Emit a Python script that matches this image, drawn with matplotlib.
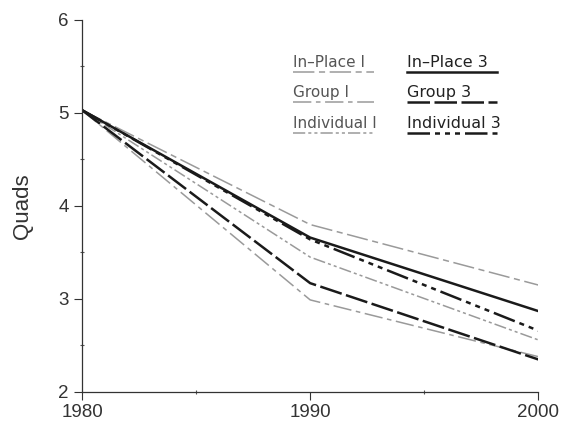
import matplotlib
matplotlib.use("Agg")
import matplotlib.pyplot as plt
from matplotlib.ticker import MultipleLocator

years = [1980, 1990, 2000]

# quads
inplace1 = [5.03, 3.80, 3.15]
group1 = [5.03, 2.99, 2.38]
indiv1 = [5.03, 3.45, 2.56]
inplace3 = [5.03, 3.66, 2.87]
group3 = [5.03, 3.17, 2.35]
indiv3 = [5.03, 3.64, 2.66]

labels1 = ["In\u2013Place I", "Group I", "Individual I"]
labels3 = ["In\u2013Place 3", "Group 3", "Individual 3"]

gray = "#9a9a9a"
black = "#1a1a1a"
styles1 = [(0, (14, 3, 4, 3)), (0, (12, 3, 3, 3)), (0, (8, 2, 2, 2, 2, 2))]
styles3 = ["-", (0, (9, 1.8)), (0, (9, 2, 2, 2, 2, 2, 2, 2))]

plt.rcParams["font.family"] = ["Liberation Sans", "DejaVu Sans"]

fig = plt.figure(figsize=(5.66, 4.24), dpi=100)
ax = fig.add_axes([0.145, 0.0755, 0.806, 0.8775])

series1 = [inplace1, group1, indiv1]
series3 = [inplace3, group3, indiv3]
for vals, ls in zip(series1, styles1):
    ax.plot(years, vals, color=gray, lw=1.1, ls=ls)
for vals, ls in zip(series3, styles3):
    ax.plot(years, vals, color=black, lw=1.8, ls=ls)

ax.set_xlim(1980, 2000)
ax.set_ylim(2, 6)
ax.set_xticks(years)
ax.xaxis.set_minor_locator(MultipleLocator(5))
ax.yaxis.set_major_locator(MultipleLocator(1))
ax.yaxis.set_minor_locator(MultipleLocator(0.5))
ax.tick_params(which="major", length=6, width=0.8, labelsize=13.5, colors="#333333")
ax.tick_params(which="minor", length=3, width=0.8, direction="inout", colors="#555555")
ax.tick_params(axis="x", pad=3)
for s in ["top", "right"]:
    ax.spines[s].set_visible(False)
for s in ["left", "bottom"]:
    ax.spines[s].set_color("#333333")
    ax.spines[s].set_linewidth(0.9)
ax.set_ylabel("Quads", fontsize=16, color="#333333", labelpad=18)

# legend: text with a line sample underneath
tr = ax.transAxes
ys_text = [0.874, 0.793, 0.710]
ys_line = [0.860, 0.780, 0.696]
for i in range(3):
    ax.text(0.462, ys_text[i], labels1[i], transform=tr, fontsize=11, color="#555555",
            family=["DejaVu Sans"], va="baseline")
    ax.plot([0.462, 0.64], [ys_line[i]] * 2, transform=tr, color=gray,
            lw=1.1, ls=styles1[i])
    ax.text(0.713, ys_text[i], labels3[i], transform=tr, fontsize=11.5, color="#222222",
            family=["DejaVu Sans"], va="baseline")
    ax.plot([0.713, 0.91], [ys_line[i]] * 2, transform=tr, color=black,
            lw=1.8, ls=styles3[i])

fig.savefig("out.png", dpi=100)
